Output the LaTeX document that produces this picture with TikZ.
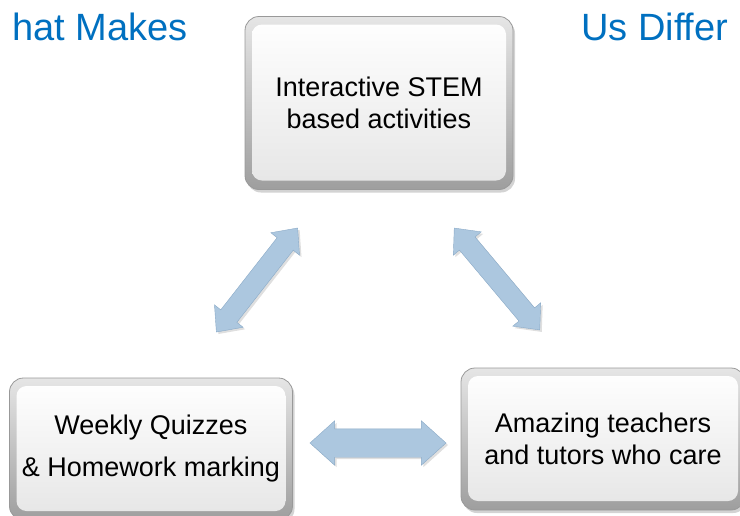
\documentclass[tikz,border=0pt]{standalone}
\usepackage{fontspec}
\setmainfont{Liberation Sans}
\usetikzlibrary{shapes.arrows,shadows}

\definecolor{titleblue}{RGB}{0,112,192}
\definecolor{arrowfill}{RGB}{172,199,223}
\definecolor{arrowedge}{RGB}{138,170,199}

\tikzset{
  card/.style={rounded corners=14pt, draw=black!40, line width=0.8pt,
    top color=black!10, bottom color=black!38, align=center,
    font=\fontsize{27}{32}\selectfont,
    drop shadow={shadow xshift=2pt, shadow yshift=-3pt, opacity=0.35},
    path picture={\shade[top color=white, bottom color=black!10, rounded corners=10pt]
      ([shift={(7pt,-8pt)}]path picture bounding box.north west) rectangle
      ([shift={(-7pt,9pt)}]path picture bounding box.south east);}},
  link/.style={double arrow, draw=arrowedge, fill=arrowfill, inner xsep=0pt,
    double arrow tip angle=84,
    drop shadow={shadow xshift=2pt, shadow yshift=-2pt, opacity=0.25}},
  heading/.style={text=titleblue, font=\fontsize{38}{42}\selectfont}
}

\begin{document}
\begin{tikzpicture}[x=1pt, y=-1pt]
\useasboundingbox (0,0) rectangle (740,515);

% heading, cut at both sides
\node[heading, anchor=base east, inner sep=0pt] (hl) at (188,40) {hat Makes};
\node[heading, anchor=base west, inner sep=0pt] (hr) at (581,40) {Us Differ};

% the three cards
\node[card, minimum width=268pt, minimum height=173pt] (stem) at (379,103)
  {Interactive STEM\\based activities};
\node[card, minimum width=283pt, minimum height=142pt,
  font=\fontsize{27}{42}\selectfont] (quiz) at (151,449)
  {Weekly Quizzes\\\& Homework marking};
\node[card, minimum width=284pt, minimum height=142pt] (tutor) at (603,439)
  {Amazing teachers\\and tutors who care};

% block arrows between them
\node[link, minimum height=132pt, inner ysep=10pt, double arrow head extend=8pt,
  rotate=52] (a1) at (257,280) {};
\node[link, minimum height=133pt, inner ysep=10pt, double arrow head extend=8pt,
  rotate=-50] (a2) at (497,279) {};
\node[link, minimum height=136pt, inner ysep=14pt, double arrow head extend=8pt]
  (a3) at (378,443) {};
\end{tikzpicture}
\end{document}
